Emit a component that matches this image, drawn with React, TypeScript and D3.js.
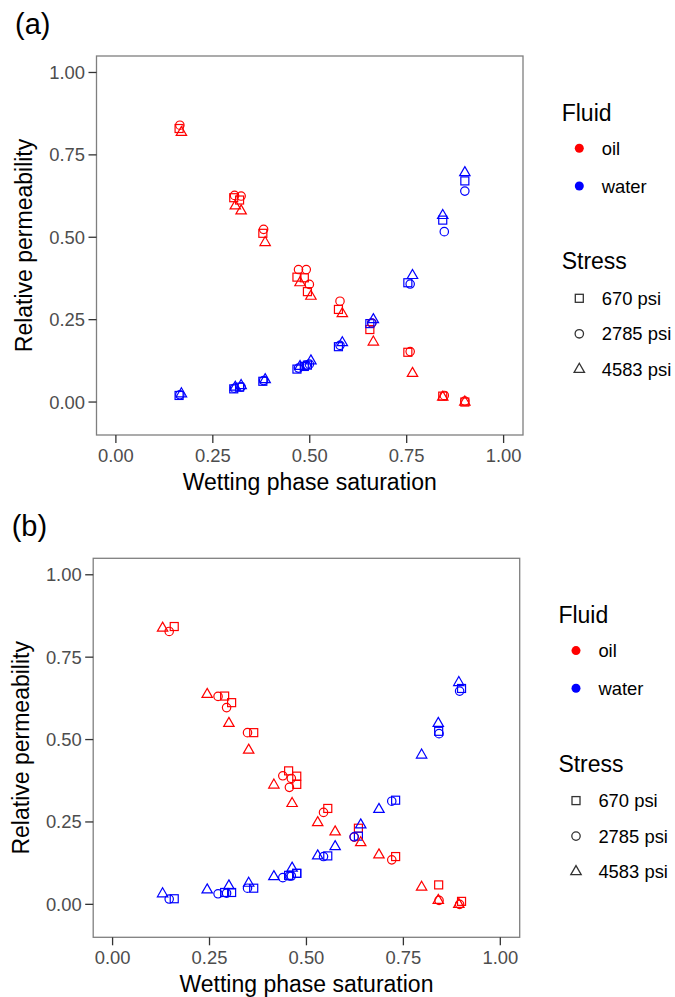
import React from "react";
import * as d3 from "d3";

// ---------- data: panel (a) ----------
const aSw670 = [0.163, 0.304, 0.319, 0.379, 0.467, 0.486, 0.494, 0.574, 0.655, 0.753, 0.843, 0.9];
const aOil670 = [0.83, 0.62, 0.613, 0.512, 0.379, 0.377, 0.335, 0.281, 0.22, 0.151, 0.018, 0.0];
const aWater670 = [0.02, 0.04, 0.045, 0.063, 0.1, 0.108, 0.112, 0.168, 0.238, 0.362, 0.552, 0.671];

const aSw2785 = [0.165, 0.306, 0.323, 0.381, 0.471, 0.491, 0.499, 0.578, 0.66, 0.759, 0.847, 0.9];
const aOil2785 = [0.84, 0.627, 0.625, 0.524, 0.402, 0.402, 0.357, 0.306, 0.24, 0.153, 0.02, 0.003];
const aWater2785 = [0.022, 0.042, 0.046, 0.065, 0.103, 0.112, 0.115, 0.172, 0.24, 0.358, 0.517, 0.64];

const aSw4583 = [0.169, 0.308, 0.323, 0.385, 0.475, 0.503, 0.584, 0.664, 0.765, 0.843, 0.9];
const aOil4583 = [0.818, 0.595, 0.58, 0.484, 0.362, 0.321, 0.268, 0.182, 0.087, 0.015, 0.0];
const aWater4583 = [0.025, 0.045, 0.05, 0.068, 0.108, 0.125, 0.18, 0.25, 0.384, 0.566, 0.696];

// ---------- data: panel (b) ----------
const bSw670 = [0.159, 0.289, 0.307, 0.364, 0.454, 0.475, 0.475, 0.555, 0.634, 0.73, 0.841, 0.9];
const bOil670 = [0.843, 0.632, 0.612, 0.521, 0.405, 0.389, 0.364, 0.291, 0.231, 0.145, 0.059, 0.009];
const bWater670 = [0.017, 0.036, 0.036, 0.049, 0.088, 0.094, 0.094, 0.147, 0.207, 0.316, 0.525, 0.655];

const bSw2785 = [0.146, 0.272, 0.294, 0.348, 0.439, 0.461, 0.456, 0.544, 0.623, 0.72, 0.842, 0.895];
const bOil2785 = [0.828, 0.631, 0.597, 0.521, 0.39, 0.382, 0.355, 0.279, 0.204, 0.135, 0.012, 0.0];
const bWater2785 = [0.016, 0.032, 0.034, 0.049, 0.081, 0.086, 0.086, 0.145, 0.205, 0.313, 0.518, 0.647];

const bSw4583 = [0.129, 0.244, 0.3, 0.351, 0.416, 0.463, 0.529, 0.574, 0.64, 0.687, 0.797, 0.84, 0.893];
const bOil4583 = [0.838, 0.637, 0.549, 0.468, 0.362, 0.306, 0.248, 0.22, 0.187, 0.15, 0.052, 0.012, 0.0];
const bWater4583 = [0.032, 0.044, 0.056, 0.064, 0.084, 0.11, 0.147, 0.175, 0.241, 0.288, 0.453, 0.549, 0.673];

const ticks = [0, 0.25, 0.5, 0.75, 1.0];
const tickLabels = ["0.00", "0.25", "0.50", "0.75", "1.00"];
const fluids = ["oil", "water"];
const fluidColors = ["#FF0000", "#0000FF"];
const stresses = ["670 psi", "2785 psi", "4583 psi"];
const shapes = ["square", "circle", "triangle"];

type Pt = { sw: number; kr: number; fluid: number; stress: number };

function build(sets: [number[], number[], number[]][]): Pt[] {
  const out: Pt[] = [];
  sets.forEach(([sw, oil, water], s) => {
    sw.forEach((v, i) => out.push({ sw: v, kr: oil[i], fluid: 0, stress: s }));
    sw.forEach((v, i) => out.push({ sw: v, kr: water[i], fluid: 1, stress: s }));
  });
  return out;
}

const panelA = build([
  [aSw670, aOil670, aWater670],
  [aSw2785, aOil2785, aWater2785],
  [aSw4583, aOil4583, aWater4583],
]);
const panelB = build([
  [bSw670, bOil670, bWater670],
  [bSw2785, bOil2785, bWater2785],
  [bSw4583, bOil4583, bWater4583],
]);

const FONT = '"Liberation Sans", Arial, Helvetica, sans-serif';

function Marker({ shape, x, y, color, sw = 1.2 }: { shape: string; x: number; y: number; color: string; sw?: number }) {
  if (shape === "square") {
    return <rect x={x - 4} y={y - 4} width={8} height={8} fill="none" stroke={color} strokeWidth={sw} />;
  }
  if (shape === "circle") {
    return <circle cx={x} cy={y} r={4.2} fill="none" stroke={color} strokeWidth={sw} />;
  }
  const s = 10.4;
  const h = (s * Math.sqrt(3)) / 2;
  const d = `M${x},${y - (2 * h) / 3} L${x + s / 2},${y + h / 3} L${x - s / 2},${y + h / 3} Z`;
  return <path d={d} fill="none" stroke={color} strokeWidth={sw} strokeLinejoin="miter" />;
}

function Panel({ ox, oy, label, data }: { ox: number; oy: number; label: string; data: Pt[] }) {
  const left = 96.5 + ox;
  const right = 523 + ox;
  const top = 56 + oy;
  const bottom = 435 + oy;
  const x = d3.scaleLinear().domain([-0.05, 1.05]).range([left, right]);
  const y = d3.scaleLinear().domain([-0.1, 1.05]).range([bottom, top]);
  const cy = (top + bottom) / 2;
  const cx = (left + right) / 2;
  const legX = 579.3 + ox;
  return (
    <g>
      <text x={15 + ox} y={34 + oy} fontSize={29} fontFamily={FONT} fill="#000">{label}</text>
      <rect x={left} y={top} width={right - left} height={bottom - top} fill="#fff" stroke="#7f7f7f" strokeWidth={1.3} />
      {ticks.map((t, i) => (
        <g key={"y" + i}>
          <line x1={left - 8} x2={left} y1={y(t)} y2={y(t)} stroke="#333" strokeWidth={1.3} />
          <text x={left - 11.5} y={y(t) + 6.5} textAnchor="end" fontSize={18.4} fontFamily={FONT} fill="#4d4d4d">{tickLabels[i]}</text>
          <line x1={x(t)} x2={x(t)} y1={bottom} y2={bottom + 8} stroke="#333" strokeWidth={1.3} />
          <text x={x(t)} y={bottom + 26.7} textAnchor="middle" fontSize={18.4} fontFamily={FONT} fill="#4d4d4d">{tickLabels[i]}</text>
        </g>
      ))}
      {data.map((p, i) => (
        <Marker key={i} shape={shapes[p.stress]} x={x(p.sw)} y={y(p.kr)} color={fluidColors[p.fluid]} />
      ))}
      <text x={cx} y={bottom + 55} textAnchor="middle" fontSize={23} fontFamily={FONT} fill="#000">Wetting phase saturation</text>
      <text transform={`translate(${32 + ox},${cy}) rotate(-90)`} textAnchor="middle" fontSize={23} fontFamily={FONT} fill="#000">Relative permeability</text>
      {/* Legend: Fluid */}
      <text x={561.7 + ox} y={120.6 + oy} fontSize={23} fontFamily={FONT} fill="#000">Fluid</text>
      {fluids.map((f, i) => (
        <g key={f}>
          <circle cx={legX} cy={148.3 + oy + i * 37.7} r={4.5} fill={fluidColors[i]} />
          <text x={601.7 + ox} y={148.3 + oy + i * 37.7 + 6.6} fontSize={18.4} fontFamily={FONT} fill="#000">{f}</text>
        </g>
      ))}
      {/* Legend: Stress */}
      <text x={561.7 + ox} y={269.3 + oy} fontSize={23} fontFamily={FONT} fill="#000">Stress</text>
      {stresses.map((s, i) => (
        <g key={s}>
          <Marker shape={shapes[i]} x={legX} y={298.3 + oy + i * 35.5} color="#333" sw={1.3} />
          <text x={601.7 + ox} y={298.3 + oy + i * 35.5 + 6.6} fontSize={18.4} fontFamily={FONT} fill="#000">{s}</text>
        </g>
      ))}
    </g>
  );
}

export default function App() {
  return (
    <svg width={675} height={997} style={{ position: "absolute", left: 0, top: 0, background: "#fff" }}>
      <rect x={0} y={0} width={675} height={997} fill="#fff" />
      <Panel ox={0} oy={0} label="(a)" data={panelA} />
      <Panel ox={-3.3} oy={502.3} label="(b)" data={panelB} />
    </svg>
  );
}
